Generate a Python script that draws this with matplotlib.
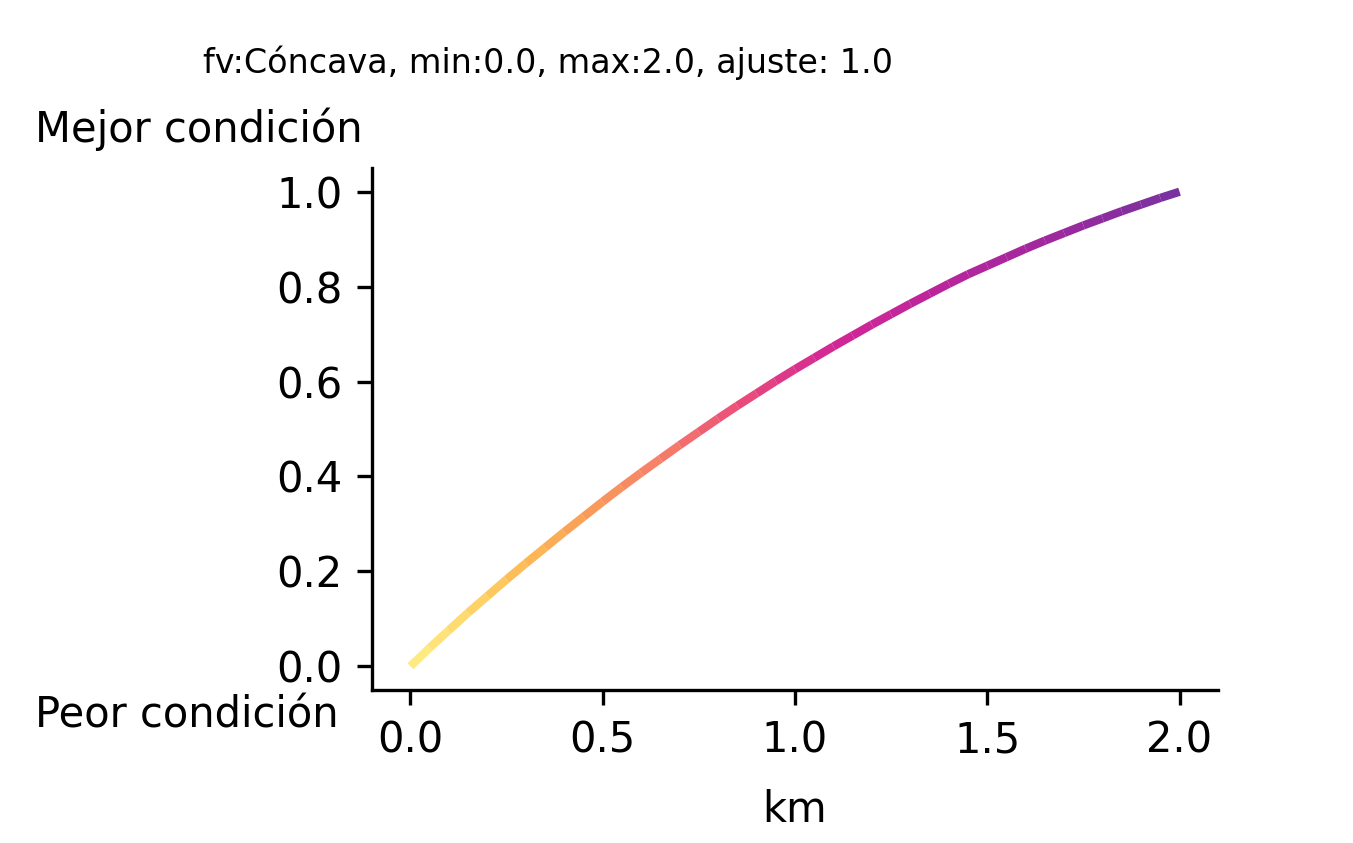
import numpy as np
import matplotlib
matplotlib.use('Agg')
import matplotlib.pyplot as plt
from matplotlib.collections import LineCollection
from matplotlib.colors import LinearSegmentedColormap

#================================================
# curve values (km vs condition)
km = [0.00, 0.05, 0.10, 0.15, 0.20, 0.25, 0.30, 0.35, 0.40, 0.45,
      0.50, 0.55, 0.60, 0.65, 0.70, 0.75, 0.80, 0.85, 0.90, 0.95,
      1.00, 1.05, 1.10, 1.15, 1.20, 1.25, 1.30, 1.35, 1.40, 1.45,
      1.50, 1.55, 1.60, 1.65, 1.70, 1.75, 1.80, 1.85, 1.90, 1.95, 2.00]
condicion = [0.000, 0.039, 0.076, 0.113, 0.148, 0.183, 0.217, 0.250, 0.283, 0.315,
             0.347, 0.378, 0.408, 0.437, 0.466, 0.494, 0.522, 0.549, 0.575, 0.601,
             0.626, 0.650, 0.674, 0.697, 0.720, 0.742, 0.764, 0.785, 0.806, 0.826,
             0.844, 0.862, 0.880, 0.897, 0.913, 0.929, 0.944, 0.959, 0.973, 0.987, 1.000]

titulo = 'fv:Cóncava, min:0.0, max:2.0, ajuste: 1.0'
x_ticks = [0.0, 0.5, 1.0, 1.5, 2.0]
y_ticks = [0.0, 0.2, 0.4, 0.6, 0.8, 1.0]

# colours sampled along the line (coloured by condition value)
colores = ['#ffeb77', '#fed35c', '#fdb042', '#f88f48', '#f56e5a',
           '#e8386c', '#d0108a', '#b80c90', '#9a1093', '#6a1b96']
cmap = LinearSegmentedColormap.from_list('curva', colores)

#================================================
fig = plt.figure(figsize=(1353 / 300, 843 / 300), dpi=300)
ax = fig.add_axes([372 / 1353, 1 - 690 / 843, (1218 - 372) / 1353, (690 - 168) / 843])

x = np.array(km)
y = np.array(condicion)
pts = np.array([x, y]).T.reshape(-1, 1, 2)
segs = np.concatenate([pts[:-1], pts[1:]], axis=1)
lc = LineCollection(segs, cmap=cmap, linewidth=2, alpha=0.9)
lc.set_array((y[:-1] + y[1:]) / 2)
lc.set_clim(0, 1)
ax.add_collection(lc)

ax.set_xlim(-0.1, 2.1)
ax.set_ylim(-0.05, 1.05)
ax.set_xticks(x_ticks)
ax.set_yticks(y_ticks)
ax.tick_params(labelsize=10)
ax.set_xlabel('km', fontsize=10, labelpad=6.6)
ax.spines['top'].set_visible(False)
ax.spines['right'].set_visible(False)

fig.text(548 / 1353, 1 - 63 / 843, titulo, fontsize=8, ha='center', va='center')
fig.text(35 / 1353, 1 - 129 / 843, 'Mejor condición', fontsize=10, ha='left', va='center')
fig.text(35 / 1353, 1 - 715 / 843, 'Peor condición', fontsize=10, ha='left', va='center')

fig.savefig('out.png', dpi=300)
